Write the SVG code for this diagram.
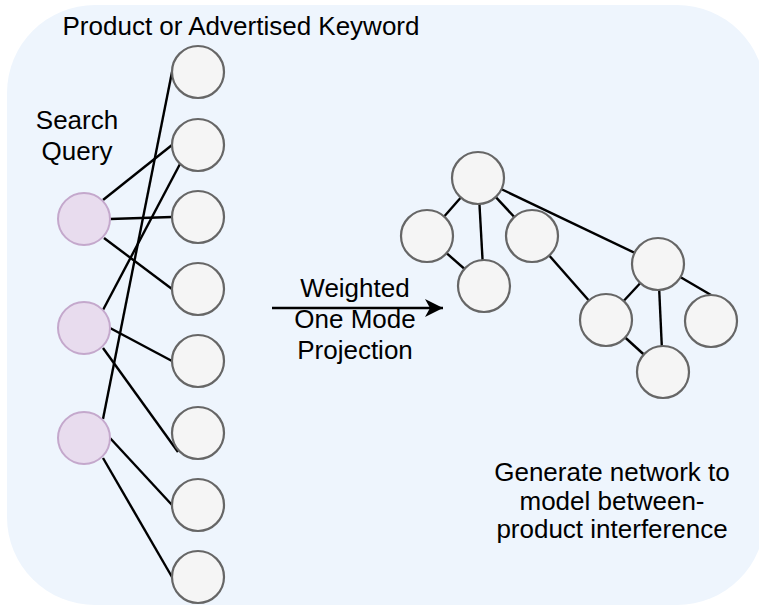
<svg xmlns="http://www.w3.org/2000/svg" width="759" height="607" viewBox="0 0 759 607">
<style>
text{font-family:"Liberation Sans",Arial,sans-serif;font-size:26px;fill:#000;text-anchor:middle}
.q{fill:#E8DCEE;stroke:#C4A8CC;stroke-width:2}
.p{fill:#F5F5F5;stroke:#666;stroke-width:2.2}
.e{stroke:#000;stroke-width:2.4;fill:none}
</style>
<defs>
<marker id="ah" viewBox="0 0 20 20" refX="18" refY="10" markerWidth="20" markerHeight="20" markerUnits="userSpaceOnUse" orient="auto">
<path d="M0,1 L18,10 L0,19 L5,10 Z" fill="#000"/>
</marker>
</defs>
<rect x="7" y="5" width="758" height="600" rx="88" ry="88" fill="#EEF5FD"/>
<g id="connectors">
<line class="e" x1="172" y1="72" x2="103" y2="419"/>
<line class="e" x1="172" y1="145" x2="103" y2="200"/>
<line class="e" x1="180" y1="164" x2="103" y2="310"/>
<line class="e" x1="110" y1="219" x2="172" y2="217"/>
<line class="e" x1="104" y1="238" x2="172" y2="289"/>
<line class="e" x1="110" y1="328" x2="172" y2="361"/>
<line class="e" x1="103" y1="348" x2="178" y2="452"/>
<line class="e" x1="110" y1="438" x2="172" y2="505"/>
<line class="e" x1="103" y1="458" x2="172" y2="577"/>
<line class="e" x1="272" y1="308" x2="443" y2="308" marker-end="url(#ah)"/>
<line class="e" x1="478" y1="178" x2="427" y2="236"/>
<line class="e" x1="478" y1="178" x2="484" y2="286"/>
<line class="e" x1="427" y1="236" x2="484" y2="286"/>
<line class="e" x1="478" y1="178" x2="532" y2="236"/>
<line class="e" x1="478" y1="178" x2="658" y2="264"/>
<line class="e" x1="532" y1="236" x2="606" y2="320"/>
<line class="e" x1="658" y1="264" x2="606" y2="320"/>
<line class="e" x1="658" y1="264" x2="663" y2="372"/>
<line class="e" x1="606" y1="320" x2="663" y2="372"/>
<line class="e" x1="658" y1="264" x2="711" y2="295"/>
</g>
<g id="label-products"><text x="241" y="35">Product or Advertised Keyword</text></g>
<g id="label-query"><text x="77" y="129">Search</text><text x="77" y="160">Query</text></g>
<g id="label-projection"><text x="355" y="297">Weighted</text><text x="355" y="328">One Mode</text><text x="355" y="359">Projection</text></g>
<g id="label-network"><text x="612" y="481">Generate network to</text><text x="612" y="510">model between-</text><text x="612" y="538">product interference</text></g>
<g id="q1"><circle class="q" cx="84" cy="219" r="26"/></g>
<g id="q2"><circle class="q" cx="84" cy="328" r="26"/></g>
<g id="q3"><circle class="q" cx="84" cy="438" r="26"/></g>
<g id="p1"><circle class="p" cx="198" cy="72" r="26"/></g>
<g id="p2"><circle class="p" cx="198" cy="145" r="26"/></g>
<g id="p3"><circle class="p" cx="198" cy="217" r="26"/></g>
<g id="p4"><circle class="p" cx="198" cy="289" r="26"/></g>
<g id="p5"><circle class="p" cx="198" cy="361" r="26"/></g>
<g id="p6"><circle class="p" cx="198" cy="433" r="26"/></g>
<g id="p7"><circle class="p" cx="198" cy="505" r="26"/></g>
<g id="p8"><circle class="p" cx="198" cy="577" r="26"/></g>
<g id="nA"><circle class="p" cx="478" cy="178" r="26"/></g>
<g id="nB"><circle class="p" cx="427" cy="236" r="26"/></g>
<g id="nC"><circle class="p" cx="484" cy="286" r="26"/></g>
<g id="nD"><circle class="p" cx="532" cy="236" r="26"/></g>
<g id="nE"><circle class="p" cx="658" cy="264" r="26"/></g>
<g id="nF"><circle class="p" cx="606" cy="320" r="26"/></g>
<g id="nG"><circle class="p" cx="711" cy="321" r="26"/></g>
<g id="nH"><circle class="p" cx="663" cy="372" r="26"/></g>
</svg>
